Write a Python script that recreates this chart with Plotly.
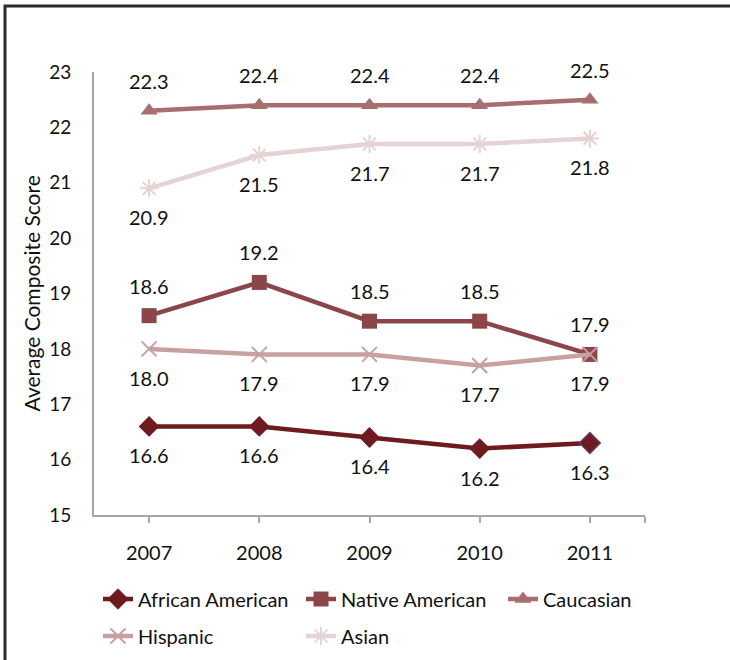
import plotly.graph_objects as go

years = [2007, 2008, 2009, 2010, 2011]
african_american = [16.6, 16.6, 16.4, 16.2, 16.3]
native_american = [18.6, 19.2, 18.5, 18.5, 17.9]
caucasian = [22.3, 22.4, 22.4, 22.4, 22.5]
hispanic = [18.0, 17.9, 17.9, 17.7, 17.9]
asian = [20.9, 21.5, 21.7, 21.7, 21.8]

y_ticks = [15, 16, 17, 18, 19, 20, 21, 22, 23]
y_title = "Average Composite Score"

FONT = "Lato, 'Open Sans', sans-serif"

series = [
    ("African American", african_american, "#6e1a1e", "diamond", "below", "legend"),
    ("Native American", native_american, "#8c4649", "square", "above", "legend"),
    ("Caucasian", caucasian, "#a86d6f", "triangle-up", "above", "legend3"),
    ("Hispanic", hispanic, "#c9a0a2", "x-thin-open", "below", "legend2"),
    ("Asian", asian, "#e6d3d3", "asterisk-open", "below", "legend2"),
]

L, R, T, B = 94, 85, 72, 145
W, H = 730, 660
pw, ph = W - L - R, H - T - B
def px_x(p):
    return (p - L) / pw
def px_y(p):
    return (H - B - p) / ph
def cont_y(p):
    return 1 - p / H

fig = go.Figure()
annotations = []
for name, vals, color, sym, pos, leg in series:
    mline_width = 0
    if sym in ("x-thin-open", "asterisk-open"):
        mline_width = 2
    marker = dict(symbol=sym, size=15, color=color, line=dict(color=color, width=mline_width))
    if name == "African American":
        marker["line"] = dict(color=[color] * (len(vals) - 1) + ["#5b3f6b"], width=[0] * (len(vals) - 1) + [1.5])
        marker["size"] = 16
    fig.add_trace(go.Scatter(
        x=years, y=vals, name=name, mode="lines+markers",
        line=dict(color=color, width=4.5),
        marker=marker, legend=leg,
    ))
    for x, v in zip(years, vals):
        annotations.append(dict(
            x=x, y=v, xref="x", yref="y", text=f"{v:.1f}", showarrow=False,
            yshift=30 if pos == "above" else -29,
            font=dict(family=FONT, size=20, color="#111"),
        ))

annotations.append(dict(
    x=px_x(31), y=0.5, xref="paper", yref="paper", text=y_title, textangle=-90,
    showarrow=False, xanchor="center", yanchor="middle",
    font=dict(family=FONT, size=21, color="#111"),
))

shapes = [dict(type="rect", xref="paper", yref="paper",
               x0=px_x(5), x1=px_x(760), y0=px_y(6), y1=px_y(700),
               line=dict(color="#2a2a2a", width=3), fillcolor="rgba(0,0,0,0)", layer="below")]

leg_font = dict(family=FONT, size=20, color="#111")

fig.update_layout(
    width=W, height=H,
    margin=dict(l=L, r=R, t=T, b=B, autoexpand=False),
    paper_bgcolor="white", plot_bgcolor="white",
    font=dict(family=FONT, size=20, color="#111"),
    showlegend=True,
    annotations=annotations,
    shapes=shapes,
    xaxis=dict(
        range=[2006.5, 2011.5],
        tickvals=years + [2011.5], ticktext=[str(y) for y in years] + [""],
        showline=True, linecolor="#a6a6a6", linewidth=2,
        ticks="outside", ticklen=6, tickwidth=1.5, tickcolor="#a6a6a6",
        ticklabelstandoff=13,
        showgrid=False, zeroline=False,
        tickfont=dict(family=FONT, size=20, color="#111"),
    ),
    xaxis2=dict(
        overlaying="x", anchor="y", side="bottom",
        range=[2006.5, 2011.5],
        tickvals=years + [2011.5], ticks="inside", ticklen=6, tickwidth=1.5,
        tickcolor="#a6a6a6", showticklabels=False, showline=False,
        showgrid=False, zeroline=False,
    ),
    yaxis=dict(
        range=[15, 23], tickvals=y_ticks,
        showline=True, linecolor="#a6a6a6", linewidth=2,
        ticks="", showgrid=False, zeroline=False,
        ticklabelstandoff=17,
        tickfont=dict(family=FONT, size=19, color="#111"),
    ),
    legend=dict(orientation="h", x=px_x(98), xanchor="left", y=cont_y(599), yref="container",
                yanchor="middle", font=leg_font, entrywidth=158, bgcolor="rgba(0,0,0,0)"),
    legend3=dict(orientation="h", x=px_x(503), xanchor="left", y=cont_y(599), yref="container",
                 yanchor="middle", font=leg_font, bgcolor="rgba(0,0,0,0)"),
    legend2=dict(orientation="h", x=px_x(98), xanchor="left", y=cont_y(636), yref="container",
                 yanchor="middle", font=leg_font, entrywidth=158, bgcolor="rgba(0,0,0,0)"),
)

fig.write_html("out.html")
